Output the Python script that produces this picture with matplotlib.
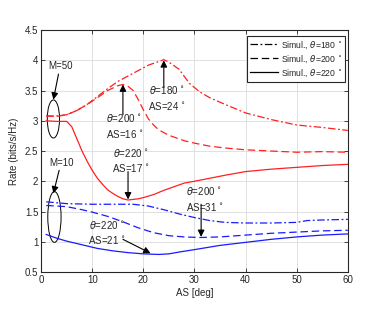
import numpy as np
import matplotlib.pyplot as plt
from matplotlib.patches import Ellipse

plt.rcParams['font.family'] = ['Liberation Sans', 'DejaVu Sans']
plt.rcParams['mathtext.fontset'] = 'dejavusans'

# M=50 (red)
as_r180 = [1, 3, 5, 7, 9, 11, 13, 15, 17, 19, 21, 23, 24, 25, 27, 29, 31, 33, 36, 40, 45, 50, 55, 60]
rate_r180 = [3.08, 3.08, 3.10, 3.17, 3.27, 3.40, 3.53, 3.65, 3.74, 3.83, 3.92, 3.98, 4.01, 3.97, 3.85, 3.62, 3.48, 3.38, 3.27, 3.13, 3.02, 2.93, 2.89, 2.84]
as_r200 = [1, 3, 5, 7, 9, 11, 13, 15, 16, 17, 18, 19, 20, 21, 22, 23, 25, 28, 30, 33, 36, 40, 45, 50, 55, 60]
rate_r200 = [3.08, 3.07, 3.10, 3.17, 3.27, 3.38, 3.50, 3.58, 3.60, 3.57, 3.50, 3.35, 3.18, 3.03, 2.93, 2.85, 2.76, 2.67, 2.63, 2.58, 2.55, 2.52, 2.50, 2.48, 2.49, 2.48]
as_r220 = [1, 3, 5, 6, 7, 8, 9, 10, 11, 12, 13, 14, 15, 16, 17, 18, 19, 20, 22, 24, 26, 28, 30, 33, 36, 40, 45, 50, 55, 60]
rate_r220 = [3.00, 2.99, 2.99, 2.90, 2.70, 2.50, 2.33, 2.18, 2.05, 1.95, 1.86, 1.80, 1.75, 1.71, 1.69, 1.70, 1.71, 1.73, 1.78, 1.85, 1.91, 1.97, 2.00, 2.05, 2.10, 2.16, 2.20, 2.23, 2.26, 2.28]

# M=10 (blue)
as_b180 = [1, 5, 10, 15, 18, 21, 24, 27, 30, 33, 36, 40, 45, 50, 52, 55, 60]
rate_b180 = [1.66, 1.63, 1.62, 1.62, 1.62, 1.59, 1.53, 1.46, 1.40, 1.35, 1.32, 1.31, 1.31, 1.32, 1.35, 1.36, 1.37]
as_b200 = [1, 5, 8, 10, 13, 16, 19, 22, 25, 28, 31, 35, 40, 45, 50, 55, 60]
rate_b200 = [1.60, 1.58, 1.53, 1.49, 1.42, 1.33, 1.23, 1.15, 1.10, 1.08, 1.07, 1.08, 1.11, 1.14, 1.16, 1.18, 1.19]
as_b220 = [1, 3, 5, 8, 11, 14, 17, 20, 23, 25, 27, 30, 35, 40, 45, 50, 55, 60]
rate_b220 = [1.12, 1.06, 1.01, 0.95, 0.89, 0.85, 0.82, 0.80, 0.79, 0.80, 0.83, 0.87, 0.94, 0.99, 1.04, 1.08, 1.11, 1.13]

legend_labels = [r'Simul., $\theta$=180$\,^\circ$', r'Simul., $\theta$=200$\,^\circ$',
                 r'Simul., $\theta$=220$\,^\circ$']

fig = plt.figure(figsize=(3.74, 3.13), dpi=100)
ax = fig.add_axes([0.110, 0.131, 0.820, 0.773])

dashdot = (0, (6, 2, 1.5, 2))
dashed = (0, (6, 3))
lw = 0.9
ax.plot(as_r180, rate_r180, color='#ff2020', linestyle=dashdot, lw=lw)
ax.plot(as_r200, rate_r200, color='#ff2020', linestyle=dashed, lw=lw)
ax.plot(as_r220, rate_r220, color='#ff2020', linestyle='-', lw=lw)
ax.plot(as_b180, rate_b180, color='#1a1aff', linestyle=dashdot, lw=lw)
ax.plot(as_b200, rate_b200, color='#1a1aff', linestyle=dashed, lw=lw)
ax.plot(as_b220, rate_b220, color='#1a1aff', linestyle='-', lw=lw)

# legend with black proxies
h1, = ax.plot([], [], color='k', linestyle=dashdot, lw=lw)
h2, = ax.plot([], [], color='k', linestyle=dashed, lw=lw)
h3, = ax.plot([], [], color='k', linestyle='-', lw=lw)
leg = ax.legend([h1, h2, h3], legend_labels, loc='upper right', fontsize=6.2,
                handlelength=3.2, handletextpad=0.4, labelspacing=0.3,
                borderpad=0.35, fancybox=False, framealpha=1,
                bbox_to_anchor=(1.0, 0.985), borderaxespad=0.3)
leg.get_frame().set_edgecolor('#262626')
leg.get_frame().set_linewidth(0.8)
for t in leg.get_texts():
    t.set_color('#262626')

ax.set_xlim(0, 60)
ax.set_ylim(0.5, 4.5)
ax.set_xticks(np.arange(0, 61, 10))
ax.set_yticks(np.arange(0.5, 4.51, 0.5))
ax.set_yticklabels(['0.5', '1', '1.5', '2', '2.5', '3', '3.5', '4', '4.5'])
ax.grid(True, color='#dcdcdc', lw=0.6)
ax.set_axisbelow(True)
ax.tick_params(direction='in', length=3, width=0.6, top=True, right=True,
               labelsize=7, colors='#262626', pad=2)
for s in ax.spines.values():
    s.set_color('#262626')
    s.set_linewidth(0.8)
ax.set_xlabel('AS [deg]', fontsize=7, color='#262626', labelpad=2)
ax.set_ylabel('Rate (bits/s/Hz)', fontsize=7, color='#262626', labelpad=4)

# ellipses
ax.add_patch(Ellipse((2.4, 3.03), 2.4, 0.63, fill=False, ec='k', lw=0.7))
ax.add_patch(Ellipse((2.6, 1.41), 2.6, 0.84, fill=False, ec='k', lw=0.7))

arr = dict(arrowstyle='-|>', color='k', lw=0.8, mutation_scale=10, shrinkA=0, shrinkB=0)
fs = 7
tc = '#262626'
ax.annotate('M=50', xy=(2.4, 3.35), xytext=(3.7, 3.9), fontsize=fs, color=tc,
            ha='center', va='center', arrowprops=arr)
ax.annotate('M=10', xy=(2.4, 1.8), xytext=(3.9, 2.31), fontsize=fs, color=tc,
            ha='center', va='center', arrowprops=arr)

ax.annotate('', xy=(24, 4.0), xytext=(24, 3.55), arrowprops=arr)
ax.text(24.6, 3.38, '$\\theta$=180$\\,^\\circ$\nAS=24$\\,^\\circ$', fontsize=fs,
        color=tc, ha='center', va='center', linespacing=1.35)

ax.annotate('', xy=(16, 3.6), xytext=(16, 3.1), arrowprops=arr)
ax.text(16.3, 2.91, '$\\theta$=200$\\,^\\circ$\nAS=16$\\,^\\circ$', fontsize=fs,
        color=tc, ha='center', va='center', linespacing=1.35)

ax.annotate('', xy=(17, 1.70), xytext=(17, 2.16), arrowprops=arr)
ax.text(17.5, 2.34, '$\\theta$=220$\\,^\\circ$\nAS=17$\\,^\\circ$', fontsize=fs,
        color=tc, ha='center', va='center', linespacing=1.35)

ax.annotate('', xy=(21.4, 0.81), xytext=(16, 1.04), arrowprops=arr)
ax.text(12.8, 1.15, '$\\theta$=220$\\,^\\circ$\nAS=21$\\,^\\circ$', fontsize=fs,
        color=tc, ha='center', va='center', linespacing=1.35)

ax.annotate('', xy=(31.3, 1.08), xytext=(31.3, 1.62), arrowprops=arr)
ax.text(28.3, 1.71, '$\\theta$=200$\\,^\\circ$\nAS=31$\\,^\\circ$', fontsize=fs,
        color=tc, ha='left', va='center', linespacing=1.35)

fig.savefig('out.png', dpi=100)
